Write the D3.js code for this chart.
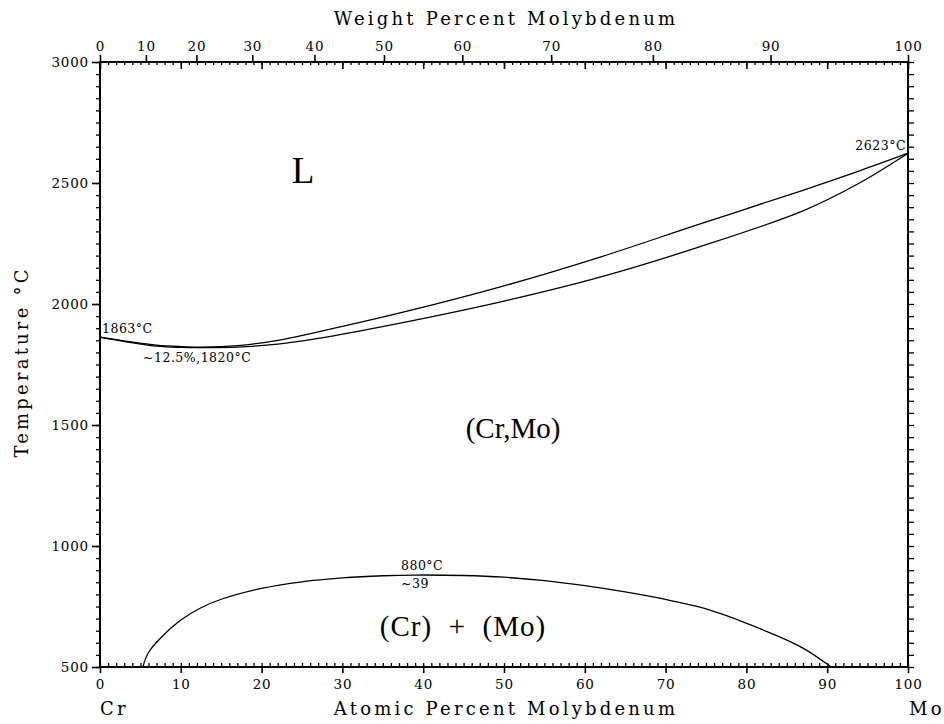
<!DOCTYPE html>
<html>
<head>
<meta charset="utf-8" />
<style>
  body { margin: 0; background: #fff; }
  text { font-family: "DejaVu Serif", serif; fill: #000; }
  .axis text { font-size: 13.5px; letter-spacing: 0.8px; }
  .axis path { display: none; }
  .axis line { stroke: #000; stroke-width: 1.6px; }
  .minor line { stroke-width: 1.3px; }
  .title { font-size: 18px; letter-spacing: 3.2px; }
  .note { font-size: 12.5px; letter-spacing: 0.5px; }
  .phase { font-family: "Liberation Serif", serif; font-size: 29px; }
  .curve { fill: none; stroke: #000; stroke-width: 1.3px; }
</style>
</head>
<body>
<div id="chart"></div>
<script src="https://d3js.org/d3.v7.min.js"></script>
<script>
// at.% Mo, temperature in C
var liquidus = [[0,1863],[3,1848],[7,1830],[10,1824],[12.5,1822],[17,1828],[22,1850],[27,1885],
  [37,1962],[50,2075],[62,2195],[74,2328],[87,2470],[94,2550],[100,2623]];
var solidus = [[0,1863],[3,1845],[7,1826],[10,1821],[12.5,1820],[17,1822],[22,1834],[27,1858],
  [37,1920],[50,2012],[62,2112],[74,2234],[87,2385],[94,2500],[100,2623]];
var gapCurve = [[5.3,500],[6,560],[7.5,620],[10,694],[12.5,745],[15,780],[20,825],[25,852],[30,868],
  [35,877],[39,880],[45,878],[50,871],[55,857],[60,836],[65,810],[70,779],[75,740],[79,694],
  [83,640],[87,578],[90.5,500]];

var atomicTicks = d3.range(0, 101, 10);
var atomicMinor = d3.range(0, 101, 1);
var weightTicks = d3.range(0, 101, 10);
var tempTicks = d3.range(500, 3001, 500);
var tempMinor = d3.range(500, 3001, 50);

// weight % Mo -> atomic % Mo
function toAtomic(w) {
  var mo = w / 95.95, cr = (100 - w) / 51.996;
  return 100 * mo / (mo + cr);
}

var width = 944, height = 724;
var svg = d3.select('#chart').append('svg')
  .attr('width', width).attr('height', height);

var x = d3.scaleLinear().domain([0, 100]).range([100, 908]);
var y = d3.scaleLinear().domain([500, 3000]).range([667, 62]);

// bottom axis
svg.append('g').attr('class', 'axis')
  .attr('transform', 'translate(0,667)')
  .call(d3.axisBottom(x).tickValues(atomicTicks).tickSize(6).tickPadding(6).tickSizeOuter(0));
svg.append('g').attr('class', 'axis minor')
  .attr('transform', 'translate(0,667)')
  .call(d3.axisBottom(x).tickValues(atomicMinor).tickSize(-4).tickFormat('').tickSizeOuter(0));

// top axis: weight labels up, atomic ticks down
svg.append('g').attr('class', 'axis')
  .attr('transform', 'translate(0,62)')
  .call(d3.axisTop(x).tickValues(weightTicks.map(toAtomic)).tickSize(7).tickPadding(4)
    .tickFormat(function(d, i) { return weightTicks[i]; }).tickSizeOuter(0));
svg.append('g').attr('class', 'axis minor')
  .attr('transform', 'translate(0,62)')
  .call(d3.axisTop(x).tickValues(atomicMinor).tickSize(-3).tickFormat('').tickSizeOuter(0));
svg.append('g').attr('class', 'axis')
  .attr('transform', 'translate(0,62)')
  .call(d3.axisTop(x).tickValues(atomicTicks).tickSize(-7).tickFormat('').tickSizeOuter(0));

// left axis
svg.append('g').attr('class', 'axis')
  .attr('transform', 'translate(100,0)')
  .call(d3.axisLeft(y).tickValues(tempTicks).tickSize(8).tickPadding(3)
    .tickFormat(d3.format('d')).tickSizeOuter(0));
svg.append('g').attr('class', 'axis minor')
  .attr('transform', 'translate(100,0)')
  .call(d3.axisLeft(y).tickValues(tempMinor).tickSize(4).tickFormat('').tickSizeOuter(0));

// right axis
svg.append('g').attr('class', 'axis minor')
  .attr('transform', 'translate(908,0)')
  .call(d3.axisRight(y).tickValues(tempMinor).tickSize(6).tickFormat('').tickSizeOuter(0));

// frame
svg.append('rect')
  .attr('x', x(0)).attr('y', y(3000))
  .attr('width', x(100) - x(0)).attr('height', y(500) - y(3000))
  .attr('fill', 'none').attr('stroke', '#000').attr('stroke-width', 2);

var line = d3.line()
  .x(function(d) { return x(d[0]); })
  .y(function(d) { return y(d[1]); })
  .curve(d3.curveCatmullRom.alpha(0.5));

svg.append('path').datum(liquidus).attr('class', 'curve').attr('d', line);
svg.append('path').datum(solidus).attr('class', 'curve').attr('d', line);
svg.append('path').datum(gapCurve).attr('class', 'curve').attr('d', line);

// titles
svg.append('text').attr('class', 'title')
  .attr('x', 506).attr('y', 25).attr('text-anchor', 'middle')
  .text('Weight Percent Molybdenum');
svg.append('text').attr('class', 'title')
  .attr('x', 506).attr('y', 715).attr('text-anchor', 'middle')
  .text('Atomic Percent Molybdenum');
svg.append('text').attr('class', 'title')
  .attr('transform', 'translate(28,362) rotate(-90)').attr('text-anchor', 'middle')
  .text('Temperature °C');
svg.append('text').attr('class', 'title').attr('x', 100).attr('y', 715).text('Cr');
svg.append('text').attr('class', 'title').attr('x', 909).attr('y', 715).text('Mo');

// phase labels
svg.append('text').attr('class', 'phase').style('font-size', '37px')
  .attr('x', 303).attr('y', 183).attr('text-anchor', 'middle').text('L');
svg.append('text').attr('class', 'phase')
  .attr('x', 513).attr('y', 438).attr('text-anchor', 'middle').text('(Cr,Mo)');
svg.append('text').attr('class', 'phase').style('letter-spacing', '1px')
  .attr('x', 463).attr('y', 636).attr('text-anchor', 'middle')
  .attr('xml:space', 'preserve').text('(Cr)  +  (Mo)');

// point notes
svg.append('text').attr('class', 'note').attr('x', 102).attr('y', 333).text('1863°C');
svg.append('text').attr('class', 'note').attr('x', 143).attr('y', 362).text('~12.5%,1820°C');
svg.append('text').attr('class', 'note').attr('x', 906).attr('y', 150)
  .attr('text-anchor', 'end').text('2623°C');
svg.append('text').attr('class', 'note').attr('x', 401).attr('y', 570).text('880°C');
svg.append('text').attr('class', 'note').attr('x', 401).attr('y', 588).text('~39');
</script>
</body>
</html>
